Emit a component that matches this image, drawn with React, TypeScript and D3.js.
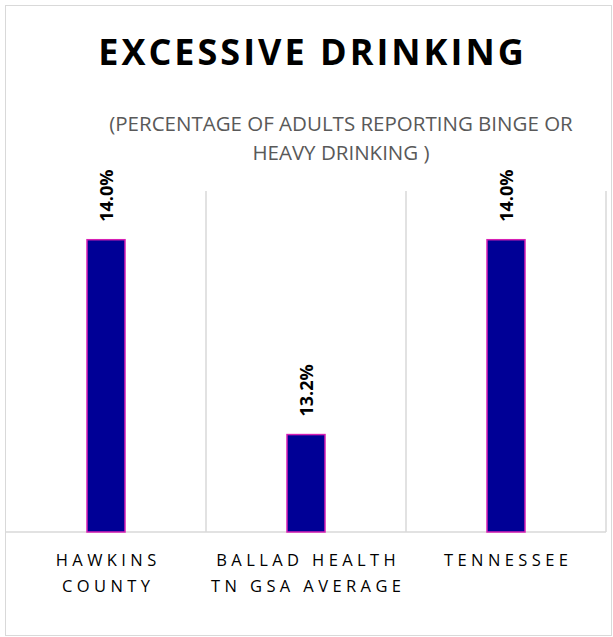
import React from 'react';
import * as d3 from 'd3';

// chart values
const categories = ['Hawkins County', 'Ballad Health TN GSA Average', 'Tennessee'];
const categoryLines = [['HAWKINS', 'COUNTY'], ['BALLAD HEALTH', 'TN GSA AVERAGE'], ['TENNESSEE']];
const values = [14.0, 13.2, 14.0];
const yDomain = [12.8, 14.2];
const title = 'EXCESSIVE DRINKING';
const subtitleLines = ['(PERCENTAGE OF ADULTS REPORTING BINGE OR', 'HEAVY DRINKING )'];

const App = () => {
    const width = 613;
    const height = 637;
    const plot = { left: 6, right: 606, top: 191, bottom: 532 };

    const x = d3.scaleBand<string>()
        .domain(categories)
        .range([plot.left, plot.right])
        .paddingInner(0)
        .paddingOuter(0);

    const y = d3.scaleLinear()
        .domain(yDomain)
        .range([plot.bottom, plot.top]);

    const barW = 38;
    const font = "'Open Sans', 'DejaVu Sans', sans-serif";
    const catSpacing = 4.4;

    return (
        <div style={{ position: 'absolute', left: 0, top: 0 }}>
            <svg width={width} height={height} style={{ display: 'block' }}>
                <rect x={0} y={0} width={width} height={height} fill="#fff" />
                {/* chart border */}
                <rect x={5.5} y={5.5} width={606} height={630} fill="none" stroke="#d9d9d9" strokeWidth={1} />

                {/* title */}
                <text x={312.5} y={65} textAnchor="middle" fontFamily={font} fontWeight="bold"
                      fontSize={36} letterSpacing={3} fill="#000">{title}</text>
                {subtitleLines.map((t, i) => (
                    <text key={i} x={341} y={131 + i * 29} textAnchor="middle" fontFamily={font}
                          fontSize={20.5} fill="#595959">{t}</text>
                ))}

                {/* vertical gridlines at category boundaries */}
                {categories.map((c) => (
                    <line key={c} x1={(x(c) as number) + x.bandwidth()} x2={(x(c) as number) + x.bandwidth()}
                          y1={plot.top} y2={plot.bottom} stroke="#d9d9d9" strokeWidth={1.5} />
                ))}
                <line x1={plot.left} x2={plot.right} y1={plot.bottom} y2={plot.bottom} stroke="#d9d9d9" strokeWidth={1.5} />

                {/* bars */}
                {categories.map((c, i) => {
                    const cx = (x(c) as number) + x.bandwidth() / 2;
                    const top = y(values[i]);
                    return (
                        <g key={c}>
                            <rect x={cx - barW / 2} y={top} width={barW} height={plot.bottom - top}
                                  fill="#000096" stroke="#d61fb4" strokeWidth={1.5} />
                            <text transform={`translate(${cx + 6.5},${top - 18}) rotate(-90)`}
                                  fontFamily={font} fontWeight="bold" fontSize={18} fill="#000">
                                {values[i].toFixed(1) + '%'}
                            </text>
                        </g>
                    );
                })}

                {/* category labels */}
                {categories.map((c, i) => {
                    const cx = (x(c) as number) + x.bandwidth() / 2;
                    return categoryLines[i].map((line, j) => (
                        <text key={c + j} x={cx + catSpacing / 2} y={566 + j * 26} textAnchor="middle" fontFamily={font}
                              fontSize={16.5} letterSpacing={catSpacing} fill="#000">{line}</text>
                    ));
                })}
            </svg>
        </div>
    );
};

export default App;
